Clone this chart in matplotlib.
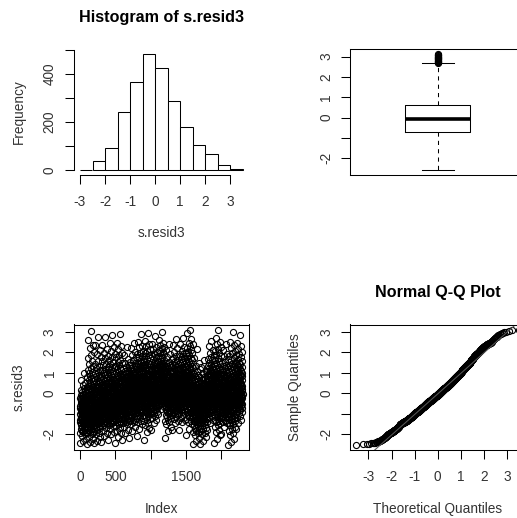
import numpy as np
import matplotlib
matplotlib.use('Agg')
import matplotlib.pyplot as plt
from statistics import NormalDist

# histogram of the residuals
hist_breaks = [-3.0, -2.5, -2.0, -1.5, -1.0, -0.5, 0.0, 0.5, 1.0, 1.5, 2.0, 2.5, 3.0, 3.5]
hist_counts = [2, 36, 90, 240, 365, 485, 424, 287, 180, 103, 65, 19, 4]
resid_min = -2.57
resid_max = 3.14

# rough look of the index plot, one entry per 100 observations:
# lower edge, dense middle, upper edge
block_lo = [-2.3, -2.4, -2.3, -2.1, -2.0, -2.2, -2.0, -1.9, -1.8, -2.0, -1.5, -0.8,
            -1.9, -1.5, -1.5, -1.8, -2.4, -2.4, -1.5, -2.4, -1.7, -2.5, -1.5]
block_mid = [-0.7, -0.5, -0.4, -0.2, -0.2, 0.0, 0.0, 0.2, 0.3, 0.3, 0.3, 0.6,
             0.2, 0.2, 0.4, 0.3, -0.3, -0.2, 0.3, 0.2, 0.2, 0.0, 0.3]
block_hi = [1.0, 3.0, 2.6, 2.6, 2.7, 2.7, 2.0, 2.3, 2.7, 2.8, 2.6, 2.8,
            2.2, 2.5, 2.5, 3.15, 1.9, 1.5, 2.4, 3.0, 2.2, 2.8, 2.6]

hist_ticks = [0, 100, 200, 300, 400, 500]
hist_ticklabels = ['0', '', '200', '', '400', '']
resid_ticks = [-2, -1, 0, 1, 2, 3]
resid_ticklabels = ['-2', '', '0', '1', '2', '3']
index_ticks = [0, 500, 1000, 1500, 2000]
index_ticklabels = ['0', '500', '', '1500', '']
qq_ticks = [-3, -2, -1, 0, 1, 2, 3]

# sample values spread inside each histogram bin
vals = []
for i, c in enumerate(hist_counts):
    a = max(hist_breaks[i], resid_min)
    b = min(hist_breaks[i + 1], resid_max)
    if i == 0:
        a, b = resid_min, hist_breaks[1]
    for k in range(c):
        vals.append(a + (k + 0.5) / c * (b - a))
sample = np.sort(np.array(vals))
n = len(sample)

# order the values along the index following the block shape
nd = NormalDist()
bs = 100
z = np.array([nd.inv_cdf((k + 0.5) / bs) for k in range(bs)])
key = np.zeros(n)
for b in range(len(block_mid)):
    for j in range(bs):
        d = z[(j * 61) % bs] / z[-1]
        if d >= 0:
            key[b * bs + j] = block_mid[b] + d * (block_hi[b] - block_mid[b])
        else:
            key[b * bs + j] = block_mid[b] + d * (block_mid[b] - block_lo[b])
resid = np.empty(n)
resid[np.argsort(key, kind='stable')] = sample
index = np.arange(1, n + 1)

plt.rcParams['font.family'] = ['Liberation Sans', 'DejaVu Sans']
plt.rcParams['axes.unicode_minus'] = False
txt = '#333333'
fs = 9.8
fs_title = 11.6
ms = 4.4
mew = 0.8

fig = plt.figure(figsize=(5.17, 5.18), dpi=100)
W, H = 517.0, 518.0


def make_ax(x0, y0, w=175.5, h=125.7):
    return fig.add_axes([x0 / W, 1 - (y0 + h) / H, w / W, h / H])


def style(ax):
    ax.tick_params(length=6.5, width=0.75, color='black', labelsize=fs, labelcolor=txt)
    ax.tick_params(axis='x', pad=8.0)
    ax.tick_params(axis='y', pad=5.5, labelrotation=90)
    for lab in ax.get_yticklabels():
        lab.set_va('center')
    for s in ax.spines.values():
        s.set_linewidth(0.75)


def labels(ax, title, xlab, ylab):
    if title:
        ax.text(0.5, 1 + 31.5 / 125.7, title, transform=ax.transAxes, ha='center',
                va='center', fontsize=fs_title, fontweight='bold', color='black')
    ax.set_xlabel(xlab, fontsize=fs, color=txt)
    ax.xaxis.set_label_coords(0.5, -58.5 / 125.7)
    ax.xaxis.label.set_va('center')
    ax.set_ylabel(ylab, fontsize=fs, color=txt)
    ax.yaxis.set_label_coords(-55.0 / 175.5, 0.5)
    ax.yaxis.label.set_va('center')


rng = resid_max - resid_min
ylim = (resid_min - 0.04 * rng, resid_max + 0.04 * rng)

# histogram
ax1 = make_ax(73.5, 49.0)
ax1.hist(resid, bins=hist_breaks, facecolor='white', edgecolor='black', linewidth=0.75)
ax1.set_xlim(-3 - 0.04 * 6.5, 3.5 + 0.04 * 6.5)
top = max(hist_counts)
ax1.set_ylim(-0.04 * top, top * 1.04)
ax1.set_xticks(qq_ticks)
ax1.set_xticklabels([str(t) for t in qq_ticks])
ax1.set_yticks(hist_ticks)
ax1.set_yticklabels(hist_ticklabels)
ax1.spines['top'].set_visible(False)
ax1.spines['right'].set_visible(False)
ax1.spines['left'].set_bounds(0, 500)
ax1.spines['bottom'].set_bounds(-3, 3)
style(ax1)
labels(ax1, 'Histogram of s.resid3', 's.resid3', 'Frequency')

# boxplot
ax2 = make_ax(350.0, 49.0)
ax2.boxplot(resid, positions=[1], widths=0.4, capwidths=0.2, whis=1.5,
            boxprops=dict(color='black', linewidth=0.75),
            medianprops=dict(color='black', linewidth=2.6),
            whiskerprops=dict(color='black', linewidth=0.75, linestyle=(0, (4, 4))),
            capprops=dict(color='black', linewidth=0.75),
            flierprops=dict(marker='o', markerfacecolor='none', markeredgecolor='black',
                            markersize=ms, markeredgewidth=mew))
ax2.set_xlim(0.46, 1.54)
ax2.set_ylim(*ylim)
ax2.set_xticks([])
ax2.set_yticks(resid_ticks)
ax2.set_yticklabels(resid_ticklabels)
style(ax2)

# index plot
ax3 = make_ax(73.5, 324.5)
ax3.plot(index, resid, 'o', mfc='none', mec='black', ms=ms, mew=mew)
ax3.set_xlim(1 - 0.04 * (n - 1), n + 0.04 * (n - 1))
ax3.set_ylim(*ylim)
ax3.set_xticks(index_ticks)
ax3.set_xticklabels(index_ticklabels)
ax3.set_yticks(resid_ticks)
ax3.set_yticklabels(resid_ticklabels)
style(ax3)
labels(ax3, None, 'Index', 's.resid3')

# normal Q-Q plot
theo = np.array([nd.inv_cdf((i + 0.5) / n) for i in range(n)])
ax4 = make_ax(350.0, 324.5)
ax4.plot(theo, sample, 'o', mfc='none', mec='black', ms=ms, mew=mew)
q1, q3 = np.quantile(sample, [0.25, 0.75])
z1, z3 = nd.inv_cdf(0.25), nd.inv_cdf(0.75)
slope = (q3 - q1) / (z3 - z1)
icpt = q1 - slope * z1
xl = 1.08 * theo[-1]
ax4.plot([-2 * xl, 2 * xl], [icpt - 2 * xl * slope, icpt + 2 * xl * slope],
         color='#555555', linewidth=0.75)
ax4.set_xlim(-xl, xl)
ax4.set_ylim(*ylim)
ax4.set_xticks(qq_ticks)
ax4.set_xticklabels([str(t) for t in qq_ticks])
ax4.set_yticks(resid_ticks)
ax4.set_yticklabels(resid_ticklabels)
style(ax4)
labels(ax4, 'Normal Q-Q Plot', 'Theoretical Quantiles', 'Sample Quantiles')

fig.savefig('out.png', dpi=100)
